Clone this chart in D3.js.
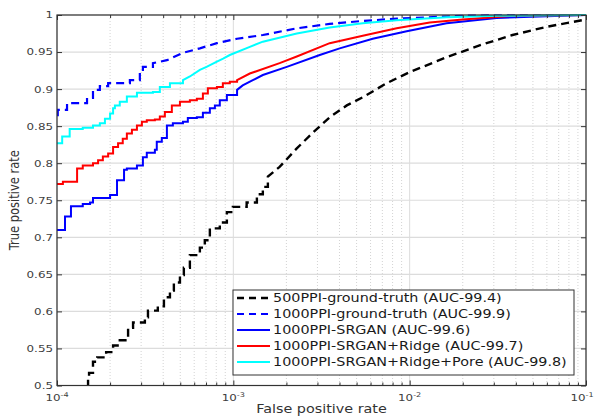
<!DOCTYPE html>
<html>
<head>
<meta charset="utf-8">
<script src="https://cdn.jsdelivr.net/npm/d3@7"></script>
<style>
  body { margin: 0; background: #fff; }
  svg { display: block; }
</style>
</head>
<body>
<div id="main"></div>
<script>
!(function () {
  'use strict';

  // data
  const seriesNames = [
    '500PPI-ground-truth (AUC-99.4)',
    '1000PPI-ground-truth (AUC-99.9)',
    '1000PPI-SRGAN (AUC-99.6)',
    '1000PPI-SRGAN+Ridge (AUC-99.7)',
    '1000PPI-SRGAN+Ridge+Pore (AUC-99.8)'
  ];

  const fpr500 = [1.50e-4, 1.50e-4, 1.52e-4, 1.60e-4, 1.69e-4, 1.90e-4, 2.08e-4, 2.27e-4, 2.53e-4, 2.70e-4,
    3.15e-4, 3.28e-4, 3.73e-4, 4.04e-4, 4.37e-4, 4.60e-4, 4.98e-4, 5.24e-4, 5.67e-4, 6.46e-4,
    6.89e-4, 7.36e-4, 8.38e-4, 9.19e-4, 9.94e-4, 1.19e-3, 1.36e-3, 1.47e-3, 1.57e-3, 1.83e-3,
    2.29e-3, 2.82e-3, 3.52e-3, 4.40e-3, 5.42e-3, 7.41e-3, 1.0e-2, 1.62e-2, 2.49e-2, 3.83e-2,
    5.97e-2, 0.1];
  const tpr500 = [0.497, 0.509, 0.517, 0.532, 0.538, 0.545, 0.554, 0.561, 0.578, 0.585,
    0.592, 0.601, 0.607, 0.619, 0.628, 0.639, 0.649, 0.659, 0.676, 0.686,
    0.696, 0.712, 0.720, 0.734, 0.741, 0.747, 0.758, 0.768, 0.782, 0.795,
    0.820, 0.841, 0.862, 0.878, 0.889, 0.908, 0.923, 0.943, 0.959, 0.973,
    0.984, 0.994];

  const fprGT = [1.00e-4, 1.01e-4, 1.14e-4, 1.48e-4, 1.60e-4, 1.75e-4, 1.95e-4, 2.59e-4, 2.95e-4, 3.07e-4,
    3.50e-4, 4.20e-4, 5.18e-4, 6.46e-4, 8.07e-4, 1.05e-3, 1.47e-3, 2.29e-3, 3.52e-3, 5.42e-3,
    8.44e-3, 2.0e-2, 4.79e-2, 0.1];
  const tprGT = [0.865, 0.872, 0.881, 0.888, 0.899, 0.904, 0.908, 0.912, 0.922, 0.930,
    0.935, 0.939, 0.949, 0.955, 0.962, 0.968, 0.973, 0.982, 0.988, 0.992,
    0.995, 0.999, 1.0, 1.0];

  const fprSR = [1.00e-4, 1.11e-4, 1.20e-4, 1.40e-4, 1.54e-4, 1.60e-4, 2.00e-4, 2.19e-4, 2.40e-4, 2.49e-4,
    2.84e-4, 3.07e-4, 3.23e-4, 3.59e-4, 3.68e-4, 3.93e-4, 4.20e-4, 4.54e-4, 5.18e-4, 5.52e-4,
    6.21e-4, 6.72e-4, 7.36e-4, 7.86e-4, 8.38e-4, 9.19e-4, 1.05e-3, 1.13e-3, 1.29e-3, 1.47e-3,
    2.01e-3, 3.09e-3, 4.01e-3, 6.17e-3, 9.62e-3, 1.62e-2, 3.11e-2, 0.1];
  const tprSR = [0.710, 0.728, 0.742, 0.745, 0.747, 0.753, 0.757, 0.777, 0.791, 0.793,
    0.797, 0.808, 0.814, 0.818, 0.829, 0.834, 0.851, 0.854, 0.856, 0.861,
    0.862, 0.868, 0.874, 0.878, 0.885, 0.892, 0.899, 0.905, 0.912, 0.919,
    0.930, 0.946, 0.955, 0.968, 0.978, 0.989, 0.996, 1.0];

  const fprRidge = [1.00e-4, 1.08e-4, 1.30e-4, 1.40e-4, 1.60e-4, 1.71e-4, 1.82e-4, 1.95e-4, 2.08e-4, 2.22e-4,
    2.36e-4, 2.49e-4, 2.66e-4, 2.84e-4, 3.03e-4, 3.23e-4, 3.59e-4, 3.83e-4, 4.09e-4, 4.48e-4,
    4.98e-4, 5.67e-4, 6.21e-4, 6.72e-4, 7.17e-4, 8.07e-4, 8.72e-4, 9.55e-4, 1.05e-3, 1.24e-3,
    1.83e-3, 2.29e-3, 3.52e-3, 5.42e-3, 8.44e-3, 1.30e-2, 2.0e-2, 3.83e-2, 0.1];
  const tprRidge = [0.772, 0.775, 0.793, 0.797, 0.800, 0.804, 0.809, 0.813, 0.822, 0.827,
    0.833, 0.840, 0.845, 0.851, 0.856, 0.858, 0.859, 0.863, 0.869, 0.878,
    0.883, 0.885, 0.887, 0.894, 0.901, 0.903, 0.908, 0.910, 0.912, 0.921,
    0.935, 0.944, 0.962, 0.972, 0.982, 0.990, 0.994, 0.999, 1.0];

  const fprPore = [1.00e-4, 1.07e-4, 1.18e-4, 1.40e-4, 1.60e-4, 1.75e-4, 1.87e-4, 2.00e-4, 2.08e-4, 2.13e-4,
    2.27e-4, 2.49e-4, 2.84e-4, 3.50e-4, 3.83e-4, 4.37e-4, 5.18e-4, 5.67e-4, 6.46e-4, 7.05e-4,
    8.07e-4, 8.75e-4, 9.55e-4, 1.24e-3, 1.47e-3, 2.29e-3, 3.52e-3, 5.42e-3, 8.44e-3, 1.62e-2,
    3.11e-2, 0.1];
  const tprPore = [0.827, 0.836, 0.846, 0.848, 0.851, 0.854, 0.860, 0.867, 0.874, 0.878,
    0.883, 0.890, 0.895, 0.896, 0.903, 0.908, 0.912, 0.917, 0.926, 0.930,
    0.937, 0.941, 0.946, 0.957, 0.964, 0.975, 0.983, 0.989, 0.993, 0.997,
    0.999, 1.0];

  const xMajorTicks = [1e-4, 1e-3, 1e-2, 1e-1];
  const xMinorTicks = [2, 3, 4, 5, 6, 7, 8, 9].flatMap(m => [1e-4, 1e-3, 1e-2].map(d => m * d));
  const xTickExponents = ['-4', '-3', '-2', '-1'];
  const yTicks = [0.5, 0.55, 0.6, 0.65, 0.7, 0.75, 0.8, 0.85, 0.9, 0.95, 1];
  const yTickLabels = ['0.5', '0.55', '0.6', '0.65', '0.7', '0.75', '0.8', '0.85', '0.9', '0.95', '1'];

  // configuration
  const canvas = {
    width: 595,
    height: 419,
    plot: { left: 57, right: 586, top: 15, bottom: 385.5 }
  };
  const stretch = 1.25; // the reference text is widened horizontally
  const fontFamily = '"DejaVu Sans", Verdana, sans-serif';

  const series = [
    { name: seriesNames[0], fpr: fpr500, tpr: tpr500, color: '#000000', dash: '8,5', width: 2.4, stepUntil: 1.6e-3 },
    { name: seriesNames[1], fpr: fprGT, tpr: tprGT, color: '#0000ff', dash: '8,5', width: 2.2, stepUntil: 4e-4 },
    { name: seriesNames[2], fpr: fprSR, tpr: tprSR, color: '#0000ff', dash: null, width: 2, stepUntil: 1.1e-3 },
    { name: seriesNames[3], fpr: fprRidge, tpr: tprRidge, color: '#ff0000', dash: null, width: 2, stepUntil: 1.1e-3 },
    { name: seriesNames[4], fpr: fprPore, tpr: tprPore, color: '#00ffff', dash: null, width: 2, stepUntil: 5.5e-4 }
  ];

  const svg = d3.select('#main')
    .append('svg')
    .attr('width', canvas.width)
    .attr('height', canvas.height)
    .style('font-family', fontFamily);

  const p = canvas.plot;
  const xScale = d3.scaleLog().domain([1e-4, 1e-1]).range([p.left, p.right]);
  const yScale = d3.scaleLinear().domain([0.5, 1]).range([p.bottom, p.top]);

  // grid
  const grid = svg.append('g');
  grid.selectAll('line.minor')
    .data(xMinorTicks)
    .join('line')
    .attr('x1', d => xScale(d)).attr('x2', d => xScale(d))
    .attr('y1', p.top).attr('y2', p.bottom)
    .attr('stroke', '#c8c8c8').attr('stroke-width', 0.8)
    .attr('stroke-dasharray', '1,2');
  grid.selectAll('line.majorx')
    .data(xMajorTicks)
    .join('line')
    .attr('x1', d => xScale(d)).attr('x2', d => xScale(d))
    .attr('y1', p.top).attr('y2', p.bottom)
    .attr('stroke', '#dcdcdc').attr('stroke-width', 1);
  grid.selectAll('line.majory')
    .data(yTicks)
    .join('line')
    .attr('x1', p.left).attr('x2', p.right)
    .attr('y1', d => yScale(d)).attr('y2', d => yScale(d))
    .attr('stroke', '#dcdcdc').attr('stroke-width', 1.2);

  // curves
  svg.append('clipPath').attr('id', 'plotClip')
    .append('rect')
    .attr('x', p.left).attr('y', p.top - 2)
    .attr('width', p.right - p.left).attr('height', p.bottom - p.top + 2);

  function stepPoints(s) {
    const pts = [];
    s.fpr.forEach((f, i) => {
      pts.push([f, s.tpr[i]]);
      const nf = s.fpr[i + 1];
      if (nf !== undefined && nf <= s.stepUntil) pts.push([nf, s.tpr[i]]);
    });
    return pts;
  }

  const line = d3.line().x(d => xScale(d[0])).y(d => yScale(d[1]));

  svg.append('g')
    .attr('clip-path', 'url(#plotClip)')
    .selectAll('path')
    .data(series)
    .join('path')
    .attr('d', d => line(stepPoints(d)))
    .attr('fill', 'none')
    .attr('stroke', d => d.color)
    .attr('stroke-width', d => d.width)
    .attr('stroke-dasharray', d => d.dash)
    .attr('stroke-linejoin', 'miter');

  // axes (ticks pointing inwards, box on)
  const axisColor = '#333';
  function styleAxis(g) {
    g.select('.domain').remove();
    g.selectAll('.tick line').attr('stroke', axisColor).attr('stroke-width', 1);
    g.selectAll('.tick text').remove();
  }
  svg.append('g').attr('transform', 'translate(0,' + p.bottom + ')')
    .call(d3.axisBottom(xScale).tickValues(xMajorTicks).tickSizeInner(-5).tickSizeOuter(0).tickFormat(''))
    .call(styleAxis);
  svg.append('g').attr('transform', 'translate(0,' + p.bottom + ')')
    .call(d3.axisBottom(xScale).tickValues(xMinorTicks).tickSizeInner(-3).tickSizeOuter(0).tickFormat(''))
    .call(styleAxis);
  svg.append('g').attr('transform', 'translate(0,' + p.top + ')')
    .call(d3.axisTop(xScale).tickValues(xMajorTicks).tickSizeInner(-5).tickSizeOuter(0).tickFormat(''))
    .call(styleAxis);
  svg.append('g').attr('transform', 'translate(0,' + p.top + ')')
    .call(d3.axisTop(xScale).tickValues(xMinorTicks).tickSizeInner(-3).tickSizeOuter(0).tickFormat(''))
    .call(styleAxis);
  svg.append('g').attr('transform', 'translate(' + p.left + ',0)')
    .call(d3.axisLeft(yScale).tickValues(yTicks).tickSizeInner(-5).tickSizeOuter(0).tickFormat(''))
    .call(styleAxis);
  svg.append('g').attr('transform', 'translate(' + p.right + ',0)')
    .call(d3.axisRight(yScale).tickValues(yTicks).tickSizeInner(-5).tickSizeOuter(0).tickFormat(''))
    .call(styleAxis);

  svg.append('rect')
    .attr('x', p.left).attr('y', p.top)
    .attr('width', p.right - p.left).attr('height', p.bottom - p.top)
    .attr('fill', 'none').attr('stroke', axisColor).attr('stroke-width', 1.2);

  // tick labels
  const labelColor = '#404040';
  svg.append('g').selectAll('text')
    .data(yTicks)
    .join('text')
    .attr('transform', d => 'translate(53,' + (yScale(d) + 3.4) + ') scale(' + stretch + ',1)')
    .attr('text-anchor', 'end')
    .attr('font-size', 9.5)
    .attr('fill', labelColor)
    .text((d, i) => yTickLabels[i]);

  const xLabels = svg.append('g').selectAll('text')
    .data(xMajorTicks)
    .join('text')
    .attr('transform', d => 'translate(' + Math.min(xScale(d), 582) + ',401) scale(' + stretch + ',1)')
    .attr('text-anchor', 'middle')
    .attr('font-size', 9.5)
    .attr('fill', labelColor);
  xLabels.append('tspan').text('10');
  xLabels.append('tspan').attr('dy', -4).attr('font-size', 6.5).text((d, i) => xTickExponents[i]);

  // axis titles
  svg.append('text')
    .attr('transform', 'translate(' + ((p.left + p.right) / 2) + ',413) scale(' + stretch + ',1)')
    .attr('text-anchor', 'middle')
    .attr('font-size', 11.5)
    .attr('fill', '#333')
    .text('False positive rate');
  svg.append('text')
    .attr('transform', 'translate(19,' + ((p.top + p.bottom) / 2) + ') rotate(-90) scale(1,' + stretch + ')')
    .attr('text-anchor', 'middle')
    .attr('font-size', 11.5)
    .attr('fill', '#333')
    .text('True positive rate');

  // legend
  const legend = { x: 233, y: 290, width: 341, height: 85, rowStart: 298, rowGap: 16 };
  const lg = svg.append('g');
  lg.append('rect')
    .attr('x', legend.x).attr('y', legend.y)
    .attr('width', legend.width).attr('height', legend.height)
    .attr('fill', '#fff').attr('stroke', axisColor).attr('stroke-width', 1);
  const rows = lg.selectAll('g.row')
    .data(series)
    .join('g')
    .attr('transform', (d, i) => 'translate(0,' + (legend.rowStart + i * legend.rowGap) + ')');
  rows.append('line')
    .attr('x1', legend.x + 4).attr('x2', legend.x + 37)
    .attr('stroke', d => d.color)
    .attr('stroke-width', d => d.width)
    .attr('stroke-dasharray', d => d.dash ? '7,5' : null);
  rows.append('text')
    .attr('transform', 'translate(' + (legend.x + 40) + ',4) scale(' + stretch + ',1)')
    .attr('font-size', 11.5)
    .attr('fill', '#1a1a1a')
    .text(d => d.name);
}());
</script>
</body>
</html>
